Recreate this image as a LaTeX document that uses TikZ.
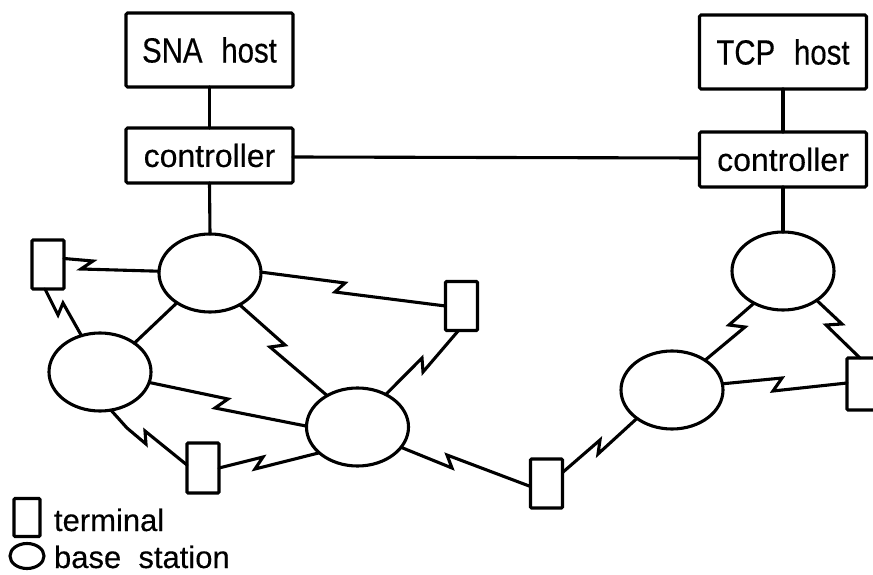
\documentclass[tikz,border=0pt]{standalone}
\usepackage{fontspec}
\setmainfont[WordSpace=2,FakeBold=0.35]{Liberation Sans}
\newfontfamily\hostfont[WordSpace=2.3,FakeBold=0.35,FakeStretch=0.84]{Liberation Sans}
\usetikzlibrary{shapes.geometric}
\tikzset{
  every node/.style={inner sep=0pt,outer sep=0pt},
  hostbox/.style={draw,line width=3.1pt,rounded corners=1.5pt,minimum width=167pt,font=\hostfont\fontsize{35}{37}\selectfont},
  ctrlbox/.style={draw,line width=3.1pt,rounded corners=1.5pt,minimum width=167pt,minimum height=55pt,font=\fontsize{32}{34}\selectfont},
  station/.style={draw,ellipse,line width=3.1pt,minimum width=102pt,minimum height=78pt},
  termbox/.style={draw,line width=3.1pt,rounded corners=1pt,minimum width=32pt,minimum height=49pt},
  link/.style={line width=3.1pt,line join=miter,line cap=round},
  legendtext/.style={font=\fontsize{31}{33}\selectfont,anchor=base west}
}
\begin{document}
\begin{tikzpicture}[x=1pt,y=-1pt]
\clip (0,0) rectangle (873,575);
\fill[white] (0,0) rectangle (873,575);
% hosts and controllers
\node[hostbox,minimum height=74pt] (h1) at (209.5,50) {SNA host};
\node[hostbox,minimum height=74pt] (h2) at (783,52) {TCP host};
\node[ctrlbox] (c1) at (209.5,155.5) {\raisebox{-2.5pt}{controller}};
\node[ctrlbox] (c2) at (783,159.5) {\raisebox{-3pt}{controller}};
% base stations
\node[station] (e1) at (210,273) {};
\node[station] (e2) at (100,372) {};
\node[station] (e3) at (357.5,427) {};
\node[station] (e4) at (783,271) {};
\node[station] (e5) at (672,390) {};
% terminals
\node[termbox] (t1) at (48,264.5) {};
\node[termbox,minimum height=50pt] (t2) at (203,468) {};
\node[termbox] (t3) at (461.5,306) {};
\node[termbox] (t4) at (546.5,483.5) {};
\node[termbox,minimum width=52pt,minimum height=52pt] (t5) at (873,384) {};
% straight wires
\draw[link] (h1.south) -- (c1.north);
\draw[link] (h2.south) -- (c2.north);
\draw[link] (c1.south) -- (e1.north);
\draw[link] (c2.south) -- (e4.north);
\draw[link] ([yshift=-1.5pt]c1.east) -- ([yshift=1.5pt]c2.west);
\draw[link] (e1.222) -- (e2.40);
% radio links
\draw[link] ([yshift=6pt]t1.east) -- (93,261) -- (81,269) -- (e1.178);
\draw[link] ([xshift=-3pt]t1.south) -- (58,315) -- (63,303) -- (e2.117);
\draw[link] (e1.1) -- (345,283) -- (335,292) -- (t3.west);
\draw[link] (e1.-47.6) -- (285,345) -- (270,347) -- (e3.134);
\draw[link] (e2.-12) -- (228,399) -- (215,408) -- (e3.179);
\draw[link] (e2.-74) -- (127,428) -- (146,444) -- (145,431) -- ([yshift=3pt]t2.west);
\draw[link] (t2.east) -- (263,457) -- (255,469) -- (e3.214);
\draw[link] (e3.49) -- (422,358) -- (423,372) -- ([xshift=-3pt]t3.south);
\draw[link] (e3.-25) -- (452,468) -- (447,455) -- ([yshift=-3pt]t4.west);
\draw[link] ([yshift=11pt]t4.east) -- (600,440) -- (598,454) -- (e5.219);
\draw[link] (e5.42) -- (745,327) -- (729,325) -- (e4.228);
\draw[link] (e4.-41) -- (842,324) -- (826,325) -- ([xshift=-13pt]t5.north);
\draw[link] (e5.7) -- (782,378) -- (773,391) -- ([yshift=1pt]t5.west);
% legend
\node[termbox,minimum width=26pt,minimum height=38pt] (lt) at (27,517.5) {};
\node[draw,ellipse,line width=3.1pt,minimum width=34pt,minimum height=25pt] (le) at (27,556) {};
\node[legendtext] (ltt) at (54,531) {terminal};
\node[legendtext] (lbt) at (54,568) {base station};
\end{tikzpicture}
\end{document}
